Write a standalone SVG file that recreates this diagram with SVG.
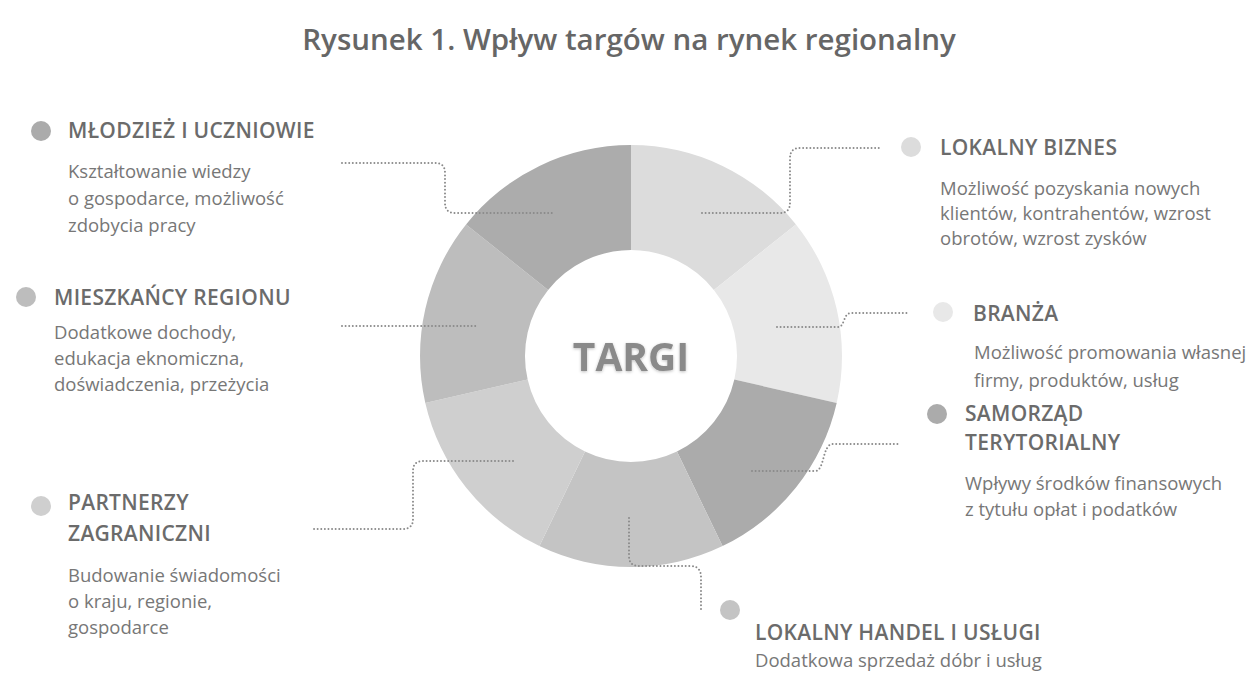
<svg xmlns="http://www.w3.org/2000/svg" width="1253" height="675" viewBox="0 0 1253 675">
<defs>
<style>
.title{font-family:"Open Sans","Liberation Sans",sans-serif;font-weight:600;font-size:29.5px;fill:#666;}
.hd{font-family:"Open Sans","Liberation Sans",sans-serif;font-weight:600;font-size:21px;letter-spacing:0.3px;fill:#6b6b6b;}
.bd{font-family:"Open Sans","Liberation Sans",sans-serif;font-weight:400;font-size:18.5px;fill:#777;}
.ctr{font-family:"Open Sans","Liberation Sans",sans-serif;font-weight:700;font-size:39px;fill:#8a8a8a;}
.dot{fill:none;stroke:#8a8a8a;stroke-width:2;stroke-linecap:round;stroke-dasharray:0 3.6;}
</style>
<filter id="sh" x="-20%" y="-30%" width="140%" height="160%">
<feDropShadow dx="0" dy="1" stdDeviation="1.5" flood-color="#000" flood-opacity="0.25"/>
</filter>
</defs>
<rect width="1253" height="675" fill="#fff"/>
<text class="title" x="629" y="50" text-anchor="middle">Rysunek 1. Wpływ targów na rynek regionalny</text>

<g id="donut">
<path d="M631,145 A211,211 0 0 1 795.96,224.44 L713.87,289.91 A106,106 0 0 0 631,250 Z" fill="#dcdcdc"/>
<path d="M795.96,224.44 A211,211 0 0 1 836.70,402.95 L734.34,379.59 A106,106 0 0 0 713.87,289.91 Z" fill="#e8e8e8"/>
<path d="M836.70,402.95 A211,211 0 0 1 722.55,546.11 L676.99,451.51 A106,106 0 0 0 734.34,379.59 Z" fill="#ababab"/>
<path d="M722.55,546.11 A211,211 0 0 1 539.45,546.11 L585.01,451.51 A106,106 0 0 0 676.99,451.51 Z" fill="#c4c4c4"/>
<path d="M539.45,546.11 A211,211 0 0 1 425.30,402.95 L527.66,379.59 A106,106 0 0 0 585.01,451.51 Z" fill="#cfcfcf"/>
<path d="M425.30,402.95 A211,211 0 0 1 466.04,224.44 L548.13,289.91 A106,106 0 0 0 527.66,379.59 Z" fill="#bdbdbd"/>
<path d="M466.04,224.44 A211,211 0 0 1 631,145 L631,250 A106,106 0 0 0 548.13,289.91 Z" fill="#acacac"/>
<text class="ctr" x="631" y="371" text-anchor="middle" filter="url(#sh)">TARGI</text>
</g>

<g id="connectors">
<path class="dot" d="M342,163 H435 Q445,163 445,173 V203 Q445,213 455,213 H553"/>
<path class="dot" d="M702,213 H780 Q790,213 790,203 V158 Q790,148 800,148 H882"/>
<path class="dot" d="M342,326 H478"/>
<path class="dot" d="M777,327 H838 C845,327 843,313 851,313 H910"/>
<path class="dot" d="M752,471 H815 C825,471 822,444 833,444 H898"/>
<path class="dot" d="M513,461 H423 Q413,461 413,471 V519 Q413,529 403,529 H314"/>
<path class="dot" d="M629,518 V556 Q629,566 639,566 H690 Q701,566 701,577 V612"/>
</g>

<g id="mlodziez">
<circle cx="41" cy="131" r="10" fill="#ababab"/>
<text class="hd" x="68" y="138">MŁODZIEŻ I UCZNIOWIE</text>
<text class="bd" x="68" y="178">Kształtowanie wiedzy</text>
<text class="bd" x="68" y="205">o gospodarce, możliwość</text>
<text class="bd" x="68" y="232">zdobycia pracy</text>
</g>

<g id="lokalny-biznes">
<circle cx="911" cy="147" r="10" fill="#dcdcdc"/>
<text class="hd" x="940" y="155">LOKALNY BIZNES</text>
<text class="bd" x="940" y="195">Możliwość pozyskania nowych</text>
<text class="bd" x="940" y="220">klientów, kontrahentów, wzrost</text>
<text class="bd" x="940" y="245">obrotów, wzrost zysków</text>
</g>

<g id="mieszkancy">
<circle cx="26" cy="297" r="10" fill="#bdbdbd"/>
<text class="hd" x="54" y="305">MIESZKAŃCY REGIONU</text>
<text class="bd" x="54" y="339">Dodatkowe dochody,</text>
<text class="bd" x="54" y="365">edukacja eknomiczna,</text>
<text class="bd" x="54" y="391">doświadczenia, przeżycia</text>
</g>

<g id="branza">
<circle cx="943" cy="312" r="10" fill="#e8e8e8"/>
<text class="hd" x="973" y="321">BRANŻA</text>
<text class="bd" x="974" y="359">Możliwość promowania własnej</text>
<text class="bd" x="974" y="387">firmy, produktów, usług</text>
</g>

<g id="samorzad">
<circle cx="937" cy="414" r="10" fill="#ababab"/>
<text class="hd" x="965" y="421">SAMORZĄD</text>
<text class="hd" x="965" y="450">TERYTORIALNY</text>
<text class="bd" x="965" y="490">Wpływy środków finansowych</text>
<text class="bd" x="965" y="516">z tytułu opłat i podatków</text>
</g>

<g id="partnerzy">
<circle cx="41" cy="506" r="10" fill="#cfcfcf"/>
<text class="hd" x="68" y="510">PARTNERZY</text>
<text class="hd" x="68" y="541">ZAGRANICZNI</text>
<text class="bd" x="68" y="582">Budowanie świadomości</text>
<text class="bd" x="68" y="608">o kraju, regionie,</text>
<text class="bd" x="68" y="634">gospodarce</text>
</g>

<g id="handel">
<circle cx="730" cy="610" r="10" fill="#c4c4c4"/>
<text class="hd" x="755" y="640">LOKALNY HANDEL I USŁUGI</text>
<text class="bd" x="755" y="667">Dodatkowa sprzedaż dóbr i usług</text>
</g>
</svg>
